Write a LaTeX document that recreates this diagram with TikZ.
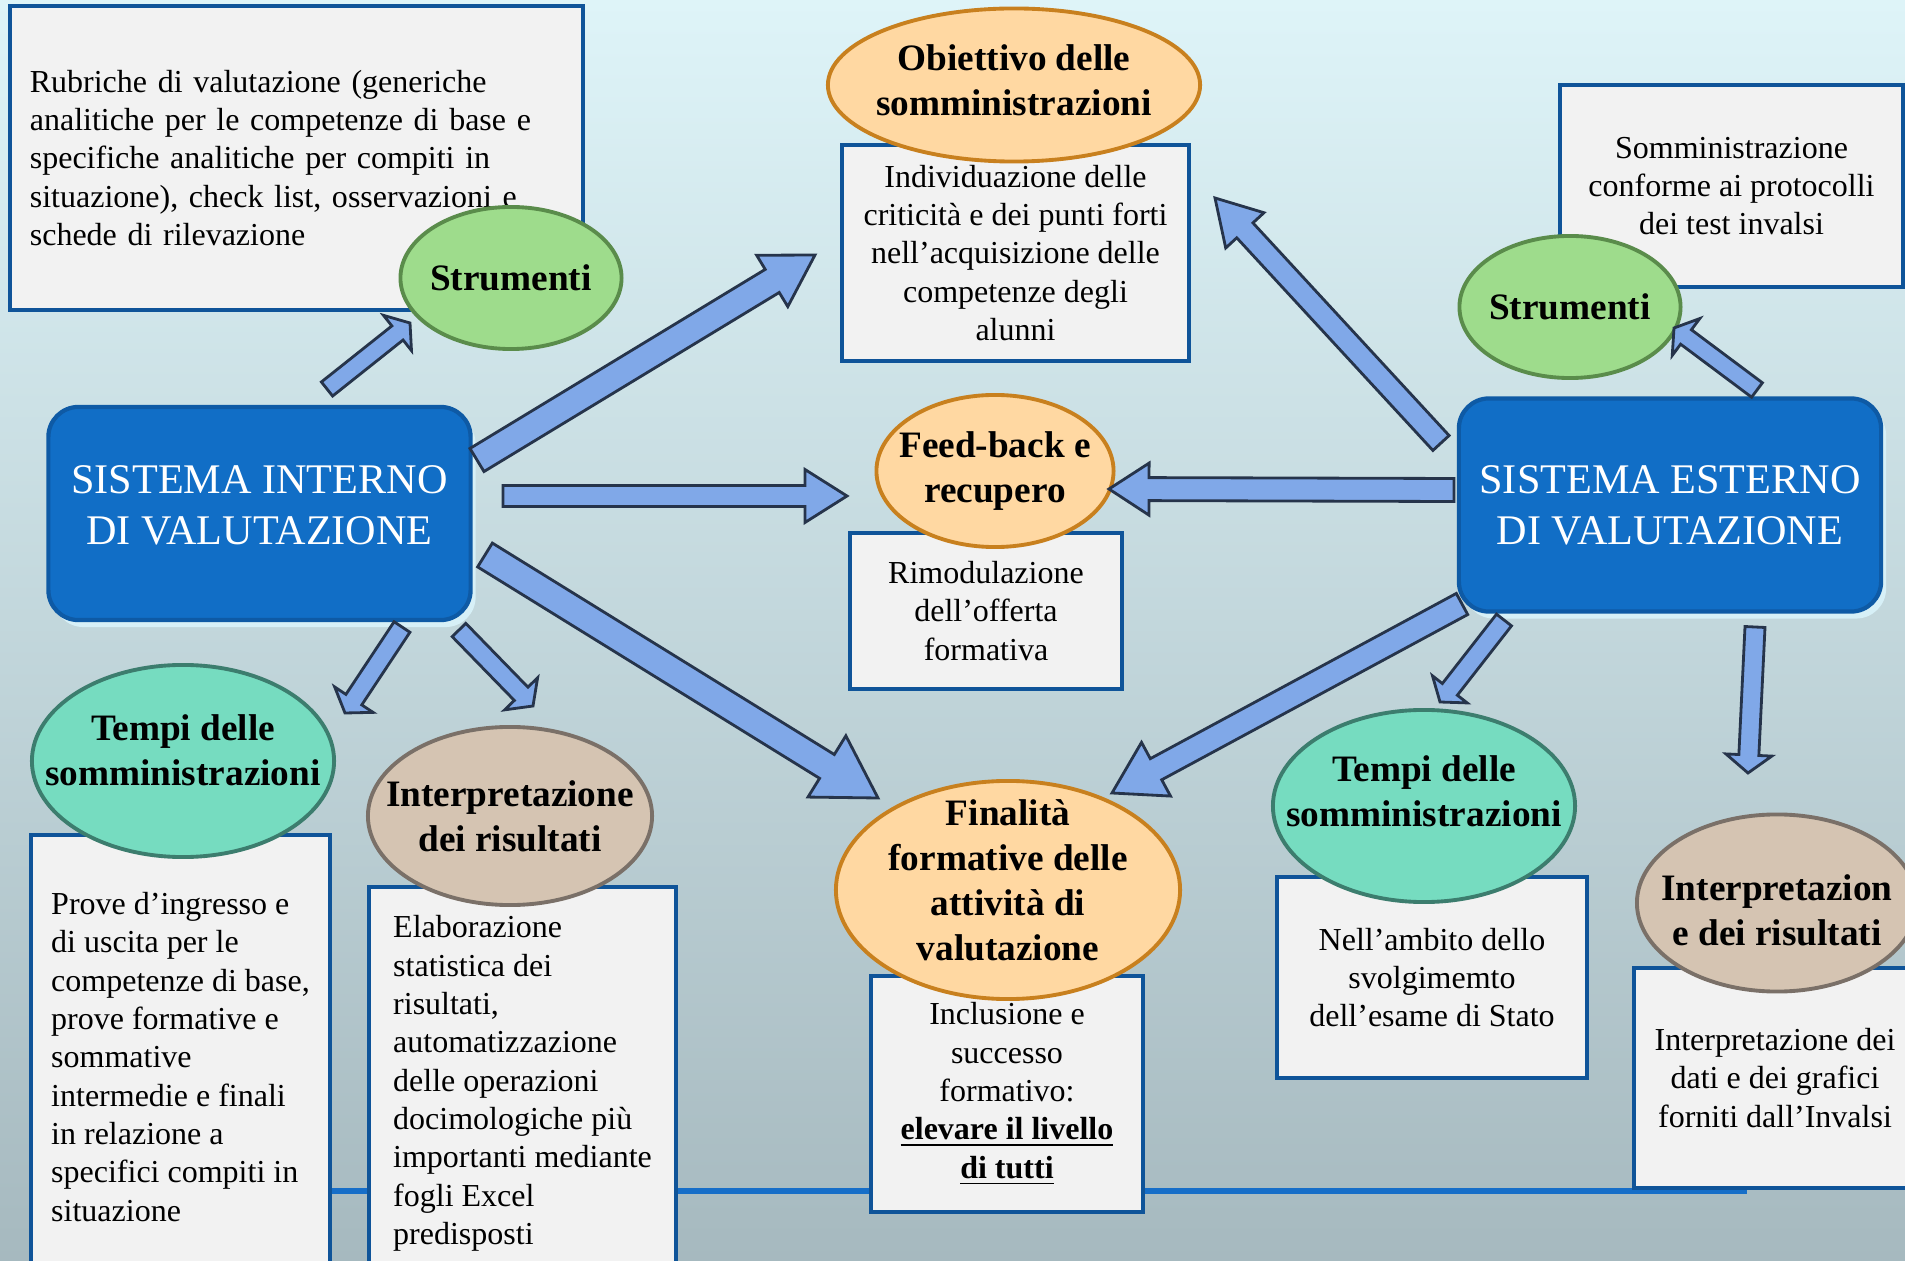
\documentclass[tikz,border=0pt]{standalone}
\usepackage{fontspec}
\setmainfont{Liberation Serif}
\usetikzlibrary{calc,shapes.geometric,shadows}

\definecolor{bgtop}{RGB}{222,244,248}
\definecolor{bgbot}{RGB}{166,185,191}
\definecolor{boxfill}{RGB}{242,242,242}
\definecolor{boxline}{RGB}{15,84,153}
\definecolor{sysfill}{RGB}{17,110,198}
\definecolor{sysline}{RGB}{14,90,165}
\definecolor{sysshadow}{RGB}{215,240,247}
\definecolor{arrowfill}{RGB}{128,168,232}
\definecolor{arrowline}{RGB}{38,52,75}
\definecolor{greenfill}{RGB}{158,220,140}
\definecolor{greenline}{RGB}{90,140,75}
\definecolor{tealfill}{RGB}{118,220,192}
\definecolor{tealline}{RGB}{60,125,110}
\definecolor{tanfill}{RGB}{213,196,178}
\definecolor{tanline}{RGB}{122,112,104}
\definecolor{orangefill}{RGB}{255,216,162}
\definecolor{orangeline}{RGB}{200,128,30}
\definecolor{lineblue}{RGB}{22,110,200}

\begin{document}
\begin{tikzpicture}[
	x=0.01cm, y=-0.01cm,
	textbox/.style={
		rectangle,
		draw=boxline,
		fill=boxfill,
		line width=1.1pt,
		inner sep=0pt,
		font=\fontsize{9.1}{10.9}\selectfont
	},
	bubble/.style={
		ellipse,
		line width=1.1pt,
		inner sep=-1cm,
		outer sep=0pt,
		align=center,
		font=\fontsize{10.6}{12.8}\selectfont\bfseries
	},
	strumenti/.style={bubble, draw=greenline, fill=greenfill, minimum width=2.21cm, minimum height=1.42cm},
	tempibubble/.style={bubble, draw=tealline, fill=tealfill, minimum width=3.02cm, minimum height=1.92cm},
	interpbubble/.style={bubble, draw=tanline, fill=tanfill},
	orangebubble/.style={bubble, draw=orangeline, fill=orangefill},
	sistema/.style={
		rectangle,
		rounded corners=0.3cm,
		draw=sysline,
		fill=sysfill,
		line width=1.2pt,
		text=white,
		align=center,
		minimum width=4.22cm,
		minimum height=2.13cm,
		font=\fontsize{12}{14.5}\selectfont,
		drop shadow={shadow xshift=0.05cm, shadow yshift=-0.07cm, fill=sysshadow, opacity=1}
	},
	blockarrow/.style args={#1/#2/#3}{
		draw=arrowline,
		fill=arrowfill,
		line width=0.8pt,
		line join=miter,
		to path={($(\tikztostart)!#1!-90:(\tikztotarget)$)
			-- ($(\tikztotarget)!#3!(\tikztostart)!#1!-90:(\tikztotarget)$)
			-- ($(\tikztotarget)!#3!(\tikztostart)!#2!-90:(\tikztotarget)$)
			-- (\tikztotarget)
			-- ($(\tikztotarget)!#3!(\tikztostart)!#2!90:(\tikztotarget)$)
			-- ($(\tikztotarget)!#3!(\tikztostart)!#1!90:(\tikztotarget)$)
			-- ($(\tikztostart)!#1!90:(\tikztotarget)$) -- cycle}
	},
	baseline/.style={draw=lineblue, line width=1.7pt}
	]

	\useasboundingbox (0,0) rectangle (1905,1261);
	\clip (0,0) rectangle (1905,1261);
	\shade[top color=bgtop, bottom color=bgbot] (0,0) rectangle (1905,1261);

	\coordinate (linestart) at (300,1191);
	\coordinate (lineend) at (1747,1191);
	\draw[baseline] (linestart) -- (lineend);

	% riquadri di testo
	\node[textbox, minimum width=5.73cm, minimum height=3.04cm, text width=5.33cm, align=left] (rubriche) at (296.5,158) {Rubriche di valutazione (generiche\\ analitiche per le competenze di base e\\ specifiche analitiche per compiti in\\ situazione), check list, osservazioni e\\ schede di rilevazione};
	\node[textbox, minimum width=3.47cm, minimum height=2.16cm, align=center] (obiettivobox) at (1015.5,253) {Individuazione delle\\ criticità e dei punti forti\\ nell’acquisizione delle\\ competenze degli\\ alunni};
	\node[textbox, minimum width=3.43cm, minimum height=2.02cm, align=center] (protocolli) at (1731.5,186) {Somministrazione\\ conforme ai protocolli\\ dei test invalsi};
	\node[textbox, minimum width=2.72cm, minimum height=1.56cm, align=center] (feedbackbox) at (986,611) {Rimodulazione\\ dell’offerta\\ formativa};
	\node[textbox, minimum width=2.99cm, minimum height=4.44cm, align=left] (tempiLbox) at (180.5,1057) {Prove d’ingresso e\\ di uscita per le\\ competenze di base,\\ prove formative e\\ sommative\\ intermedie e finali\\ in relazione a\\ specifici compiti in\\ situazione};
	\node[textbox, minimum width=3.07cm, minimum height=3.93cm, align=left] (interpLbox) at (522.5,1083.5) {Elaborazione\\ statistica dei\\ risultati,\\ automatizzazione\\ delle operazioni\\ docimologiche più\\ importanti mediante\\ fogli Excel\\ predisposti};
	\node[textbox, minimum width=2.72cm, minimum height=2.36cm, align=center] (finalitabox) at (1007,1094) {Inclusione e\\ successo\\ formativo:\\ \textbf{\underline{elevare il livello}}\\ \textbf{\underline{di tutti}}};
	\node[textbox, minimum width=3.10cm, minimum height=2.01cm, align=center] (tempiRbox) at (1432,977.5) {Nell’ambito dello\\ svolgimemto\\ dell’esame di Stato};
	\node[textbox, minimum width=2.82cm, minimum height=2.20cm, align=center] (interpRbox) at (1775,1078) {Interpretazione dei\\ dati e dei grafici\\ forniti dall’Invalsi};

	% ellissi
	\node[strumenti] (strL) at (511,278) {Strumenti};
	\node[strumenti] (strR) at (1570,307) {Strumenti};
	\node[orangebubble, minimum width=3.72cm, minimum height=1.53cm, text depth=0.1cm] (obiettivo) at (1014,85) {Obiettivo delle\\ somministrazioni};
	\node[orangebubble, minimum width=2.37cm, minimum height=1.52cm] (feedback) at (995,471) {Feed-back e\\ recupero};
	\node[orangebubble, minimum width=3.44cm, minimum height=2.18cm, text depth=0.2cm] (finalita) at (1008,890) {Finalità\\ formative delle\\ attività di\\ valutazione};
	\node[tempibubble, text depth=0.22cm] (tempiL) at (183,761) {Tempi delle\\ somministrazioni};
	\node[tempibubble, text depth=0.3cm] (tempiR) at (1424,806) {Tempi delle\\ somministrazioni};
	\node[interpbubble, minimum width=2.84cm, minimum height=1.78cm] (interpL) at (510,816) {Interpretazione\\ dei risultati};
	\node[interpbubble, minimum width=2.80cm, minimum height=1.77cm, text height=0.86cm] (interpR) at (1777,903) {Interpretazion\\ e dei risultati};

	\node[sistema, text depth=0.16cm] (interno) at (259.5,513.5) {SISTEMA INTERNO\\ DI VALUTAZIONE};
	\node[sistema] (esterno) at (1670,505) {SISTEMA ESTERNO\\ DI VALUTAZIONE};

	% frecce
	\coordinate (int-str) at (327,389);    \coordinate (str-in) at (410,323);
	\coordinate (int-obi) at (477,460);    \coordinate (obi-in) at (815,255);
	\coordinate (int-fee) at (503,496);    \coordinate (fee-in) at (847,496);
	\coordinate (int-fin) at (485,555);    \coordinate (fin-in) at (878,798);
	\coordinate (int-tem) at (402,627);    \coordinate (tem-in) at (345,713);
	\coordinate (int-int) at (459,630);    \coordinate (int-in) at (533,706);
	\coordinate (est-obi) at (1441,443);   \coordinate (obi-es) at (1215,198);
	\coordinate (est-fee) at (1454,490);   \coordinate (fee-es) at (1109,489);
	\coordinate (est-fin) at (1462,604);   \coordinate (fin-es) at (1112,793);
	\coordinate (est-tem) at (1504,620);   \coordinate (tem-es) at (1440,702);
	\coordinate (est-int) at (1755,627);   \coordinate (int-es) at (1748,773);
	\coordinate (est-str) at (1757,390);   \coordinate (str-es) at (1674,328);

	\draw[blockarrow=0.09cm/0.225cm/0.16cm] (int-str) to (str-in);
	\draw[blockarrow=0.135cm/0.30cm/0.50cm] (int-obi) to (obi-in);
	\draw[blockarrow=0.105cm/0.265cm/0.42cm] (int-fee) to (fee-in);
	\draw[blockarrow=0.14cm/0.36cm/0.60cm] (int-fin) to (fin-in);
	\draw[blockarrow=0.095cm/0.23cm/0.16cm] (int-tem) to (tem-in);
	\draw[blockarrow=0.095cm/0.23cm/0.17cm] (int-int) to (int-in);
	\draw[blockarrow=0.11cm/0.26cm/0.44cm] (est-obi) to (obi-es);
	\draw[blockarrow=0.115cm/0.26cm/0.40cm] (est-fee) to (fee-es);
	\draw[blockarrow=0.12cm/0.305cm/0.50cm] (est-fin) to (fin-es);
	\draw[blockarrow=0.095cm/0.22cm/0.16cm] (est-tem) to (tem-es);
	\draw[blockarrow=0.10cm/0.23cm/0.18cm] (est-int) to (int-es);
	\draw[blockarrow=0.09cm/0.23cm/0.15cm] (est-str) to (str-es);
\end{tikzpicture}
\end{document}
